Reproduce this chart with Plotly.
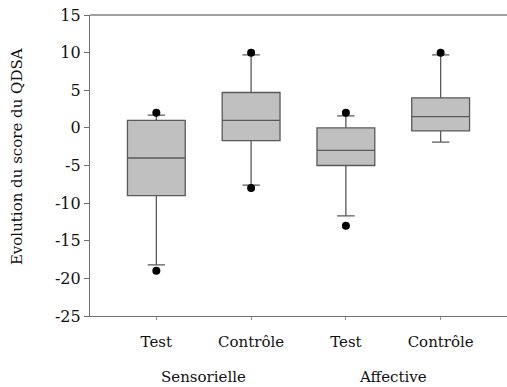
import plotly.graph_objects as go

positions = [1, 2, 3, 4]
tick_labels = ["Test", "Contrôle", "Test", "Contrôle"]
group_labels = ["Sensorielle", "Affective"]
group_pos = [1.5, 3.5]
y_ticks = [-25, -20, -15, -10, -5, 0, 5, 10, 15]
y_tick_labels = ["-25", "-20", "-15", "-10", "-5", "0", "5", "10", "15"]

q1 = [-9, -1.7, -5, -0.4]
median = [-4, 1, -3, 1.5]
q3 = [1, 4.7, 0, 4]
lower_fence = [-18.2, -7.6, -11.7, -1.9]
upper_fence = [1.7, 9.7, 1.6, 9.7]
outlier_x = [1, 1, 2, 2, 3, 3, 4]
outlier_y = [2, -19, 10, -8, 2, -13, 10]

FONT = "DejaVu Serif"

fig = go.Figure()
fig.add_trace(go.Box(
    x=positions, q1=q1, median=median, q3=q3,
    lowerfence=lower_fence, upperfence=upper_fence,
    width=0.61, whiskerwidth=0.3,
    fillcolor="#c0c0c0", line=dict(color="#5a5a5a", width=1.3),
    boxpoints=False, showlegend=False, hoverinfo="skip",
))
fig.add_trace(go.Scatter(
    x=outlier_x, y=outlier_y, mode="markers",
    marker=dict(color="black", size=8), showlegend=False, hoverinfo="skip",
))

fig.update_layout(
    width=507, height=387,
    margin=dict(l=90, r=0, t=15, b=71, autoexpand=False),
    paper_bgcolor="white", plot_bgcolor="white",
    font=dict(family=FONT, size=15, color="#111"),
    xaxis=dict(
        range=[0.3, 4.7], tickvals=positions, ticktext=tick_labels,
        showgrid=False, zeroline=False, showline=True, linecolor="#707070", linewidth=1.3,
        ticks="outside", ticklen=3, tickcolor="#909090", ticklabelstandoff=9,
        tickfont=dict(family=FONT, size=15, color="#111"),
    ),
    yaxis=dict(
        range=[-25, 15], tickvals=y_ticks, ticktext=y_tick_labels,
        showgrid=False, zeroline=False, showline=True, linecolor="#707070", linewidth=1.3,
        ticks="outside", ticklen=5, tickcolor="#707070",
        tickfont=dict(family=FONT, size=16, color="#111"),
    ),
)
fig.add_shape(type="line", xref="paper", yref="paper", x0=0, x1=1, y0=1, y1=1,
              line=dict(color="#808080", width=1.3))
for p, g in zip(group_pos, group_labels):
    fig.add_annotation(x=p, y=-0.203, xref="x", yref="paper", text=g, showarrow=False,
                       font=dict(family=FONT, size=15, color="#111"), yanchor="middle")
fig.add_annotation(x=-0.175, y=0.528, xref="paper", yref="paper", text="Evolution du score du QDSA",
                   showarrow=False, textangle=-90, font=dict(family=FONT, size=15, color="#111"),
                   xanchor="center", yanchor="middle")
fig.write_html("out.html", config={"displayModeBar": False},
               post_script="document.body.style.margin='0';document.body.style.overflow='hidden';")
